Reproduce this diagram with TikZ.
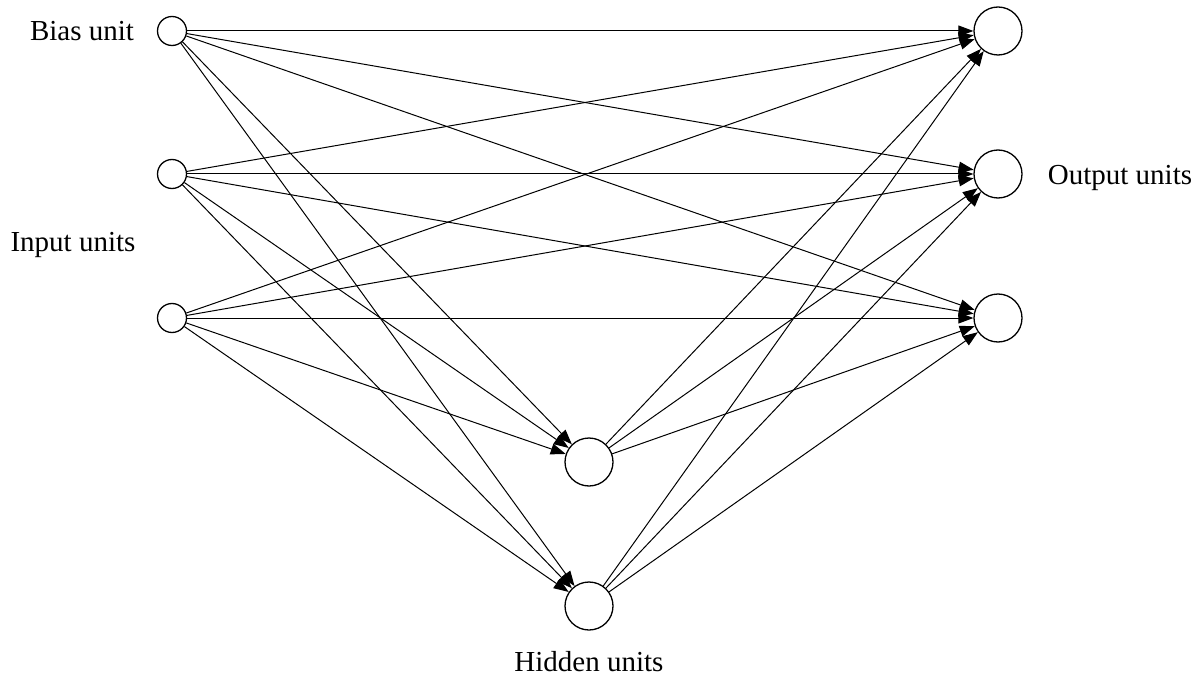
\documentclass[tikz,border=0pt]{standalone}
\usepackage{fontspec}
\setmainfont{Liberation Serif}
\usetikzlibrary{arrows.meta}
\begin{document}
\begin{tikzpicture}[x=1pt,y=-1pt,
  small/.style={draw,circle,inner sep=0pt,minimum size=29pt,line width=1.3pt},
  big/.style={draw,circle,inner sep=0pt,minimum size=48pt,line width=1.3pt},
  conn/.style={line width=1pt,-{Triangle[length=15pt,width=11pt]}},
  lbl/.style={font=\fontsize{29}{34}\selectfont,inner sep=0pt}]
\useasboundingbox (0,0) rectangle (1201,687);
\node[small] (b) at (172,31) {};
\node[small] (i1) at (172,174) {};
\node[small] (i2) at (172,318) {};
\node[big] (o1) at (998,31) {};
\node[big] (o2) at (998,174) {};
\node[big] (o3) at (998,318) {};
\node[big] (h1) at (589,462) {};
\node[big] (h2) at (589,606) {};
\node[lbl] (lb) at (82,31) {Bias unit};
\node[lbl] (li) at (73,245) {Input units};
\node[lbl] (lo) at (1120,178) {Output units};
\node[lbl] (lh) at (589,662) {Hidden units};
\foreach \s in {b,i1,i2}{
  \foreach \t in {o1,o2,o3,h1,h2}{
    \draw[conn] (\s) -- (\t);
  }
}
\foreach \s in {h1,h2}{
  \foreach \t in {o1,o2,o3}{
    \draw[conn] (\s) -- (\t);
  }
}
\end{tikzpicture}
\end{document}
